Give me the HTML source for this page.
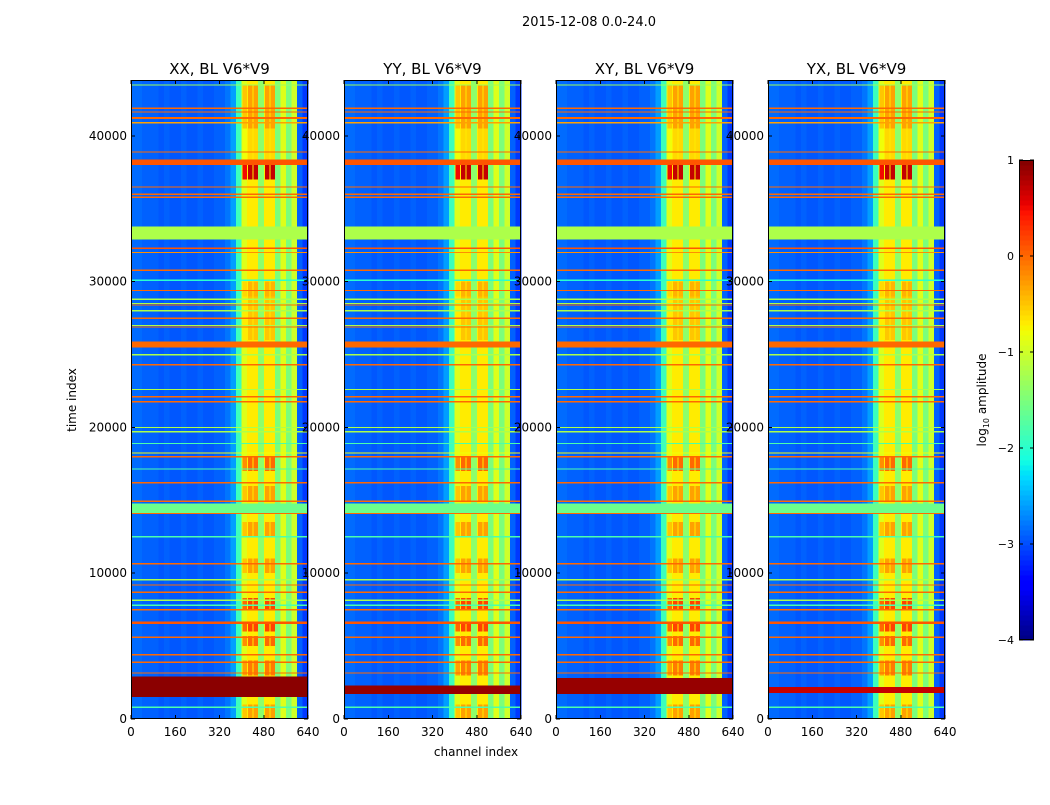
<!DOCTYPE html>
<html><head><meta charset="utf-8"><style>
html,body{margin:0;padding:0;background:#fff;}
svg text{font-family:"DejaVu Sans","Liberation Sans",sans-serif;fill:#000;}
</style></head><body>
<svg id="fig" width="1050" height="800" viewBox="0 0 1050 800" xmlns="http://www.w3.org/2000/svg">
<text x="589" y="26" font-size="13" text-anchor="middle">2015-12-08 0.0-24.0</text>
<text x="476" y="756" font-size="12" text-anchor="middle">channel index</text>
<text x="76" y="400" font-size="12" text-anchor="middle" transform="rotate(-90 76 400)">time index</text>
<g id="panels"></g>
<g id="cbar"></g>
</svg>
<script>
// ---- data ----
const panelTitles = ["XX, BL V6*V9","YY, BL V6*V9","XY, BL V6*V9","YX, BL V6*V9"];
const xTicks = [0,160,320,480,640];
const yTicks = [0,10000,20000,30000,40000];
const cbarTicks = [1,0,-1,-2,-3,-4];
// channel profile, 20-channel bins, log10 amplitude
const colProfile = [-2.85,-2.85,-2.9,-2.9,-2.9,-2.95,-2.9,-2.95,-2.95,-2.9,-2.95,-2.95,-2.9,-2.95,-2.95,-2.9,-2.9,-2.8,-2.6,-1.9,-0.9,-0.7,-0.7,-1.4,-0.7,-0.7,-1.5,-0.9,-1.5,-1.0,-2.9,-3.1];
// band (bins 20-25) time-dependent boosts
const boostStart = [40500,38000,37000,29000,26000,17000,15000,12500,10000,7500,6000,5000,3000,0];
const boostEnd   = [43500,40500,38000,30000,29000,18000,16000,13500,11000,8300,6700,5700,4000,1000];
const boostAmt   = [0.4,0.1,1.4,0.3,0.2,0.7,0.4,0.4,0.4,0.9,0.9,0.7,0.6,0.4];
// horizontal RFI lines
const lineTimes  = [43500,41900,41650,41240,40900,38900,38200,36500,36000,35800,33350,32300,32000,30800,30100,29400,28800,28500,28400,28000,27500,27000,26900,25700,25000,24300,22600,22100,21750,20000,19700,18900,18250,18000,17150,16200,14950,14450,14100,12500,10650,9550,9200,8700,8150,7800,7500,6600,5600,4400,3900,3150,800];
const lineLevels = [-1.3,0,0,0,-0.3,0,0.1,0,0,0,-1.2,0.1,-0.2,0,-2,0,-1.2,-1.2,0,-1.2,0,-1.2,0,0,-1.2,0,-1.2,0,0,-1.2,-1.2,-1.8,-0.8,0,-1.8,0,0,-1.6,0,-1.8,0,-1.2,0,0,-1.2,-1.8,0,0.1,0,0,0,0,-1.8];
const lineWidths = [80,80,80,150,80,80,400,80,80,80,900,100,80,100,60,80,80,60,80,80,80,60,80,400,80,80,80,80,100,80,60,60,60,80,60,80,100,700,100,60,100,80,80,80,80,60,80,150,80,80,80,80,60];
// per-panel strong wide event near t~2000
const eventStart = [1500,1700,1700,1800];
const eventEnd   = [2900,2300,2800,2200];
const eventLevel = [0.95,0.9,0.9,0.7];

// ---- drawing ----
const NS="http://www.w3.org/2000/svg";
const panelLeft=[131,344,556,768], PW=177, PT=80, PB=719, YMAX=43840, XMAX=640;
function jet(v){
  let n=(v+4)/5; n=Math.max(0,Math.min(1,n));
  const f=(pts)=>{for(let i=1;i<pts.length;i++){if(n<=pts[i][0]){const a=pts[i-1],b=pts[i];return a[1]+(b[1]-a[1])*(n-a[0])/(b[0]-a[0]);}}return pts[pts.length-1][1];};
  const r=f([[0,0],[0.35,0],[0.66,1],[0.89,1],[1,0.5]]);
  const g=f([[0,0],[0.125,0],[0.375,1],[0.64,1],[0.91,0],[1,0]]);
  const b=f([[0,0.5],[0.11,1],[0.34,1],[0.65,0],[1,0]]);
  return `rgb(${Math.round(r*255)},${Math.round(g*255)},${Math.round(b*255)})`;
}
function mk(tag,attrs,parent){const e=document.createElementNS(NS,tag);for(const k in attrs)e.setAttribute(k,attrs[k]);parent.appendChild(e);return e;}
const panels=document.getElementById('panels');
for(let p=0;p<4;p++){
  const L=panelLeft[p];
  const xs=c=>L+c/XMAX*PW, ys=t=>PB-t/YMAX*(PB-PT);
  const g=mk('g',{'shape-rendering':'crispEdges'},panels);
  
  
  colProfile.forEach((v,i)=>{
    const r=mk('rect',{x:xs(i*20),y:PT,width:xs((i+1)*20)-xs(i*20)+0.5,height:PB-PT,fill:jet(v)},g);
    
    
  });
  boostStart.forEach((s,k)=>{
    for(let i=20;i<=25;i++){
      if(i===23)continue;
      const r=mk('rect',{x:xs(i*20)+1,y:ys(Math.min(boostEnd[k],YMAX)),width:xs((i+1)*20)-xs(i*20)-1,height:ys(s)-ys(Math.min(boostEnd[k],YMAX)),fill:jet(colProfile[i]+boostAmt[k])},g);
      
      
    }
  });
  lineTimes.forEach((t,k)=>{
    const h=Math.max(1.3,lineWidths[k]/YMAX*(PB-PT));
    const r=mk('rect',{x:L,y:ys(t)-h/2,width:PW,height:h,fill:jet(lineLevels[k])},g);
    
    
  });
  {
    const r=mk('rect',{x:L,y:ys(eventEnd[p]),width:PW,height:ys(eventStart[p])-ys(eventEnd[p]),fill:jet(eventLevel[p])},g);
    
    
  }
  const fr=mk('rect',{x:L+0.5,y:PT+0.5,width:PW-1,height:PB-PT-1,fill:'none',stroke:'#000','stroke-width':1},g);
  
  
  const tt=mk('text',{x:L+PW/2,y:74,'font-size':15,'text-anchor':'middle'},panels);
  tt.textContent=panelTitles[p];
  
  
  xTicks.forEach(v=>{
    const x=xs(v);
    mk('line',{x1:x,y1:PB,x2:x,y2:PB-4,stroke:'#000'},g);
    mk('line',{x1:x,y1:PT,x2:x,y2:PT+4,stroke:'#000'},g);
    const t=mk('text',{x:x,y:PB+17,'font-size':12,'text-anchor':'middle'},panels);
    t.textContent=v;
    
    
  });
  yTicks.forEach(v=>{
    const y=ys(v);
    mk('line',{x1:L,y1:y,x2:L+4,y2:y,stroke:'#000'},g);
    mk('line',{x1:L+PW,y1:y,x2:L+PW-4,y2:y,stroke:'#000'},g);
    const t=mk('text',{x:L-4,y:y+4,'font-size':12,'text-anchor':'end'},panels);
    t.textContent=v;
    
    
  });
}
const cb=document.getElementById('cbar');
const CX=1019,CW=15,CT=160,CB=640;
const nseg=96;
for(let i=0;i<nseg;i++){
  const v=-4+5*(i+0.5)/nseg;
  const y0=CB-(i+1)*(CB-CT)/nseg;
  const r=mk('rect',{x:CX,y:y0,width:CW,height:(CB-CT)/nseg+0.6,fill:jet(v),'shape-rendering':'crispEdges'},cb);
  
  
}
mk('rect',{x:CX+0.5,y:CT+0.5,width:CW-1,height:CB-CT-1,fill:'none',stroke:'#000'},cb);
cbarTicks.forEach(v=>{
  const y=CB-(v+4)/5*(CB-CT);
  mk('line',{x1:CX,y1:y,x2:CX+4,y2:y,stroke:'#000'},cb);
  mk('line',{x1:CX+CW,y1:y,x2:CX+CW-4,y2:y,stroke:'#000'},cb);
  const t=mk('text',{x:1014,y:y+4,'font-size':11,'text-anchor':'end'},cb);
  t.textContent=v<0?'\u2212'+(-v):String(v);
  
  
});
const cl=mk('text',{x:986,y:400,'font-size':12,'text-anchor':'middle',transform:'rotate(-90 986 400)'},cb);
cl.innerHTML='log<tspan font-size="8" dy="3">10</tspan><tspan dy="-3"> amplitude</tspan>';


</script>
</body></html>
